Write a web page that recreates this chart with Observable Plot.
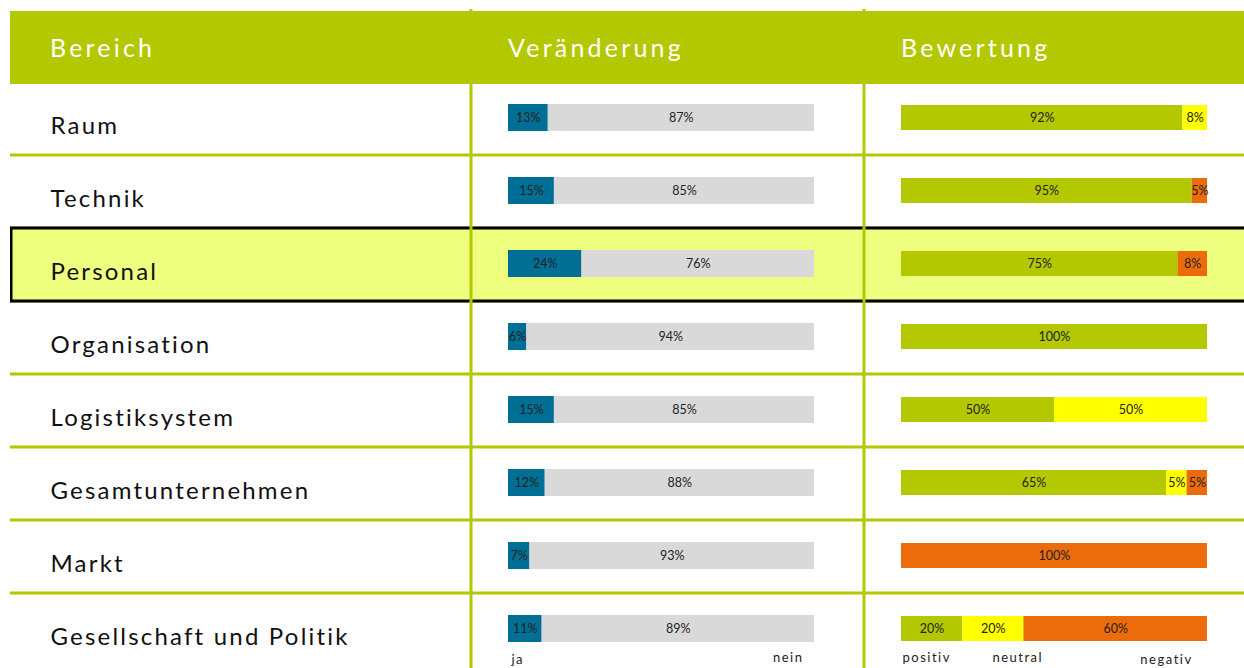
<!DOCTYPE html>
<html><head><meta charset="utf-8">
<script src="https://cdn.jsdelivr.net/npm/d3@7"></script>
<script src="https://cdn.jsdelivr.net/npm/@observablehq/plot@0.6"></script>
<style>
body{margin:0;background:#fff;font-family:Lato,sans-serif}
#wrap{position:relative;width:1244px;height:668px;overflow:hidden}
.col{position:absolute;top:0}
#header{position:absolute;left:10px;top:11px;width:1234px;height:73px;background:#B3C800;z-index:2}
#header span{position:absolute;top:24px;line-height:25px;font-size:25px;color:#fff;letter-spacing:3.2px;white-space:nowrap}
</style></head>
<body><div id="wrap"><div id="header"></div></div>
<script>
// ---- data ----
const headers = ["Bereich", "Veränderung", "Bewertung"];
const categories = ["Raum","Technik","Personal","Organisation","Logistiksystem","Gesamtunternehmen","Markt","Gesellschaft und Politik"];
const highlighted = "Personal";
const ja   = [13, 15, 24, 6, 15, 12, 7, 11];
const nein = [87, 85, 76, 94, 85, 88, 93, 89];
const positiv = [92, 95, 75, 100, 50, 65, 0, 20];
const neutral = [8, 0, 0, 0, 50, 5, 0, 20];
const negativ = [0, 5, 8, 0, 0, 5, 100, 60];
const vLegend = ["ja", "nein"];
const bLegend = ["positiv", "neutral", "negativ"];

// ---- styles ----
const GREEN = "#B3C800", BLUE = "#006F96", GREY = "#D9D9D9", YELLOW = "#FFFF00", ORANGE = "#EC6C0C";
const HIGHLIGHT = "#EEFF80";
const H = 668, ROWS = [82, 666];

const vData = categories.flatMap((c, i) => [
  {cat: c, type: vLegend[0], value: ja[i]},
  {cat: c, type: vLegend[1], value: nein[i]}
]);
const bData = categories.flatMap((c, i) => [
  {cat: c, type: bLegend[0], value: positiv[i]},
  {cat: c, type: bLegend[1], value: neutral[i]},
  {cat: c, type: bLegend[2], value: negativ[i]}
]).filter(d => d.value > 0);

const wrap = document.getElementById("wrap");
const header = document.getElementById("header");
const cols = [{left: 10, width: 459, textX: 40}, {left: 469, width: 394, textX: 39}, {left: 862, width: 382, textX: 39}];
headers.forEach((h, i) => {
  const s = document.createElement("span");
  s.textContent = h;
  s.style.left = (cols[i].left - 10 + cols[i].textX) + "px";
  header.appendChild(s);
});

const yScale = {type: "band", domain: categories, range: ROWS, padding: 0, axis: null};

function rowMarks(insetL, insetR) {
  return [
    Plot.cell(categories.slice(0, -1), {y: d => d, fill: GREEN, insetTop: 71.5, insetBottom: -1.5}),
    Plot.cell([highlighted], {y: d => d, fill: HIGHLIGHT, stroke: "#000", strokeWidth: 3, insetLeft: insetL, insetRight: insetR})
  ];
}
function place(svg, c) {
  const d = document.createElement("div");
  d.className = "col";
  d.style.left = c.left + "px";
  d.appendChild(svg);
  wrap.appendChild(d);
}
const common = {height: H, marginTop: 0, marginBottom: 0, marginLeft: 0, marginRight: 0,
  style: {fontFamily: "Lato, sans-serif", background: "transparent", overflow: "hidden"}};

// Column 1: labels
const p1 = Plot.plot({
  ...common, width: cols[0].width, y: yScale,
  marks: [
    ...rowMarks(1, -6),
    Plot.text(categories, {y: d => d, frameAnchor: "left", textAnchor: "start", dx: cols[0].textX, dy: 7, fontSize: 24, fill: "#111"})
  ]
});
d3.select(p1).selectAll("text").style("letter-spacing", "2.2px");
place(p1, cols[0]);

const sep = () => Plot.frame({anchor: "left", stroke: GREEN, strokeWidth: 3, insetLeft: 1.5, insetTop: 10});
const legendAxis = (v, label, anchor, dx, dy) => Plot.axisX([v], {anchor: "bottom", tickSize: 0, tickFormat: () => label, textAnchor: anchor, dx, dy, fontSize: 13, fill: "#222", label: null});

// Column 2: Veränderung
const p2 = Plot.plot({
  ...common, width: cols[1].width, y: yScale,
  x: {domain: [0, 100], range: [39, 345], axis: null},
  color: {domain: vLegend, range: [BLUE, GREY]},
  marks: [
    ...rowMarks(-6, -6),
    sep(),
    Plot.barX(vData, Plot.stackX({x: "value", y: "cat", fill: "type", insetTop: 22, insetBottom: 24})),
    Plot.text(vData, Plot.stackX({x: "value", y: "cat", z: "type", text: d => d.value + "%", fontSize: 12.5, fill: "#222", dy: -1})),
    legendAxis(0, vLegend[0], "start", 3, -23),
    legendAxis(100, vLegend[1], "end", -11, -25)
  ]
});
d3.select(p2).selectAll("g[aria-label='x-axis tick label'] text").style("letter-spacing", "1.5px");
place(p2, cols[1]);

// Column 3: Bewertung (normalized)
const p3 = Plot.plot({
  ...common, width: cols[2].width, y: yScale,
  x: {domain: [0, 1], range: [39, 345], axis: null},
  color: {domain: bLegend, range: [GREEN, YELLOW, ORANGE]},
  marks: [
    ...rowMarks(-6, -6),
    sep(),
    Plot.barX(bData, Plot.stackX({offset: "normalize", x: "value", y: "cat", fill: "type", insetTop: 23, insetBottom: 25})),
    Plot.text(bData, Plot.stackX({offset: "normalize", x: "value", y: "cat", z: "type", text: d => d.value + "%", fontSize: 12.5, fill: "#222", dy: -1})),
    legendAxis(0, bLegend[0], "start", 1, -25),
    legendAxis(0.38, bLegend[1], "middle", 0, -25),
    legendAxis(0.866, bLegend[2], "middle", 0, -23)
  ]
});
d3.select(p3).selectAll("g[aria-label='x-axis tick label'] text").style("letter-spacing", "1.5px");
place(p3, cols[2]);
</script>
</body></html>
